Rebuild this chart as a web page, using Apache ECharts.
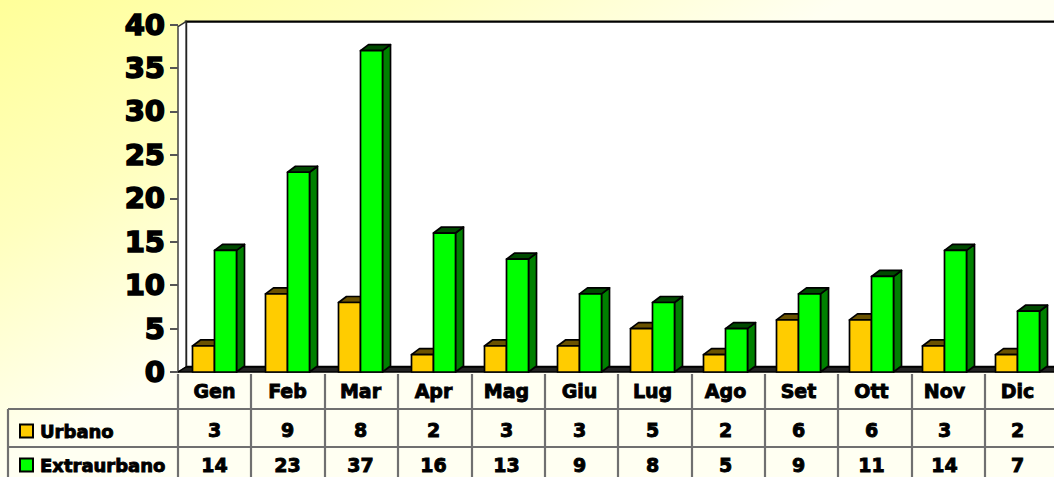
<!DOCTYPE html>
<html>
<head>
<meta charset="utf-8">
<script src="https://cdn.jsdelivr.net/npm/echarts@6/dist/echarts.min.js"></script>
<style>
html,body{margin:0;padding:0;background:#fff;}
#main{width:1054px;height:477px;}
</style>
</head>
<body>
<div id="main"></div>
<script>
// ---- data ----
var months = ['Gen','Feb','Mar','Apr','Mag','Giu','Lug','Ago','Set','Ott','Nov','Dic'];
var urbano = [3,9,8,2,3,3,5,2,6,6,3,2];
var extraurbano = [14,23,37,16,13,9,8,5,9,11,14,7];
var yMin = 0, yMax = 40, yStep = 5;
var seriesNames = ['Urbano','Extraurbano'];

// ---- layout / style ----
var FONT = 'DejaVu Sans';
var GRID = {left:178, top:24.6, right:-4.5, bottom:105};
var DX = 8, DY = 6;        // 3D depth offset
var BAR_W = 22;
var COLORS = [
  {front:'#FFCC00', top:'#6a5200', side:'#9a7a00'},
  {front:'#00FF00', top:'#004a00', side:'#008000'}
];
var chartW = 1054, chartH = 477;
var colW = (chartW - GRID.left - GRID.right) / months.length;

var chart = echarts.init(document.getElementById('main'), null, {renderer:'svg'});

function barRenderer(sIdx){
  return function(params, api){
    var i = api.value(0), v = api.value(1);
    var p0 = api.coord([i, 0]);
    var p1 = api.coord([i, v]);
    var x0 = sIdx === 0 ? p0[0] - BAR_W : p0[0];
    var yT = p1[1], yB = p0[1];
    var c = COLORS[sIdx];
    var st = {stroke:'#000', lineWidth:1.7, lineJoin:'round'};
    return {
      type:'group',
      children:[
        {type:'polygon', shape:{points:[[x0+BAR_W,yT],[x0+BAR_W+DX,yT-DY],[x0+BAR_W+DX,yB-DY],[x0+BAR_W,yB]]},
         style:Object.assign({fill:c.side}, st)},
        {type:'polygon', shape:{points:[[x0,yT],[x0+DX,yT-DY],[x0+BAR_W+DX,yT-DY],[x0+BAR_W,yT]]},
         style:Object.assign({fill:c.top}, st)},
        {type:'rect', shape:{x:x0, y:yT, width:BAR_W, height:yB-yT},
         style:Object.assign({fill:c.front}, st)}
      ]
    };
  };
}

function wallRenderer(params, api){
  var cs = params.coordSys;
  var x = cs.x, y = cs.y, w = cs.width, h = cs.height;
  return {
    type:'group',
    children:[
      {type:'polygon', shape:{points:[[x+DX,y-3],[x+w+DX+10,y-3],[x+w+DX+10,y+h-5],[x+DX,y+h-5]]},
       style:{fill:'#fff', stroke:'#000', lineWidth:2.4}},
      {type:'polygon', shape:{points:[[x,y+2],[x+DX,y-3],[x+DX,y+h-5],[x,y+h]]},
       style:{fill:'#fff', stroke:'#333', lineWidth:1.4}},
      {type:'polygon', shape:{points:[[x,y+h],[x+DX,y+h-5],[x+w+DX+10,y+h-5],[x+w+10,y+h]]},
       style:{fill:'#222', stroke:'#000', lineWidth:1.4}}
    ]
  };
}

// table lines (layout decoration)
var tableGraphics = [];
var lineStyle = {stroke:'#707070', lineWidth:2.2};
for (var k = 0; k <= months.length; k++) {
  var xx = Math.round(GRID.left + k*colW);
  tableGraphics.push({type:'line', shape:{x1:xx, y1:374, x2:xx, y2:chartH}, style:lineStyle, z:1});
}
tableGraphics.push({type:'line', shape:{x1:8, y1:409, x2:8, y2:chartH}, style:lineStyle, z:1});
tableGraphics.push({type:'line', shape:{x1:8, y1:409, x2:chartW, y2:409}, style:lineStyle, z:1});
tableGraphics.push({type:'line', shape:{x1:8, y1:447, x2:chartW, y2:447}, style:lineStyle, z:1});

var tableTxt = {fontFamily:FONT, fontWeight:'bold', fontSize:19, color:'#000', textBorderColor:'#000', textBorderWidth:0.9};

function legendFor(name, top){
  return {
    orient:'vertical', left:14, top:top, itemGap:0,
    itemWidth:13, itemHeight:13, icon:'rect', selectedMode:false,
    itemStyle:{borderColor:'#000', borderWidth:2},
    textStyle:{fontFamily:FONT, fontWeight:'bold', fontSize:18, color:'#000', lineHeight:20,
               textBorderColor:'#000', textBorderWidth:0.9, padding:[0,0,0,2]},
    data:[name]
  };
}

var option = {
  animation:false,
  backgroundColor:{
    type:'linear', x:0, y:0, x2:200, y2:360, global:true,
    colorStops:[{offset:0,color:'#FFFF99'},{offset:0.5,color:'#FFFFBE'},{offset:1,color:'#FFFFF2'}]
  },
  graphic: tableGraphics,
  legend:[legendFor(seriesNames[0], 416), legendFor(seriesNames[1], 450)],
  grid:{left:GRID.left, top:GRID.top, right:GRID.right, bottom:GRID.bottom, containLabel:false},
  xAxis:[
    {type:'category', data:months, position:'bottom',
     axisLine:{show:false}, axisTick:{show:false}, splitLine:{show:false},
     axisLabel:Object.assign({interval:0, margin:19, verticalAlign:'middle'}, tableTxt)},
    {type:'category', data:urbano.map(String), position:'bottom', offset:39,
     axisLine:{show:false}, axisTick:{show:false}, splitLine:{show:false},
     axisLabel:Object.assign({interval:0, margin:19, verticalAlign:'middle'}, tableTxt)},
    {type:'category', data:extraurbano.map(String), position:'bottom', offset:74,
     axisLine:{show:false}, axisTick:{show:false}, splitLine:{show:false},
     axisLabel:Object.assign({interval:0, margin:19, verticalAlign:'middle'}, tableTxt)}
  ],
  yAxis:{
    type:'value', min:yMin, max:yMax, interval:yStep,
    axisLine:{show:false},
    axisTick:{show:true, length:8, lineStyle:{color:'#555', width:2}},
    splitLine:{show:false},
    axisLabel:{margin:13, fontFamily:FONT, fontWeight:'bold', fontSize:29, color:'#000',
               textBorderColor:'#000', textBorderWidth:1.6}
  },
  series:[
    {type:'custom', name:'walls', xAxisIndex:0, yAxisIndex:0, silent:true, z:0,
     renderItem:wallRenderer, data:[[0,0]], legendHoverLink:false},
    {type:'custom', name:seriesNames[0], xAxisIndex:0, yAxisIndex:0, z:2,
     itemStyle:{color:COLORS[0].front},
     renderItem:barRenderer(0), encode:{x:0, y:1},
     data:urbano.map(function(v,i){return [i,v];})},
    {type:'custom', name:seriesNames[1], xAxisIndex:0, yAxisIndex:0, z:3,
     itemStyle:{color:COLORS[1].front},
     renderItem:barRenderer(1), encode:{x:0, y:1},
     data:extraurbano.map(function(v,i){return [i,v];})}
  ]
};
chart.setOption(option);
</script>
</body>
</html>
